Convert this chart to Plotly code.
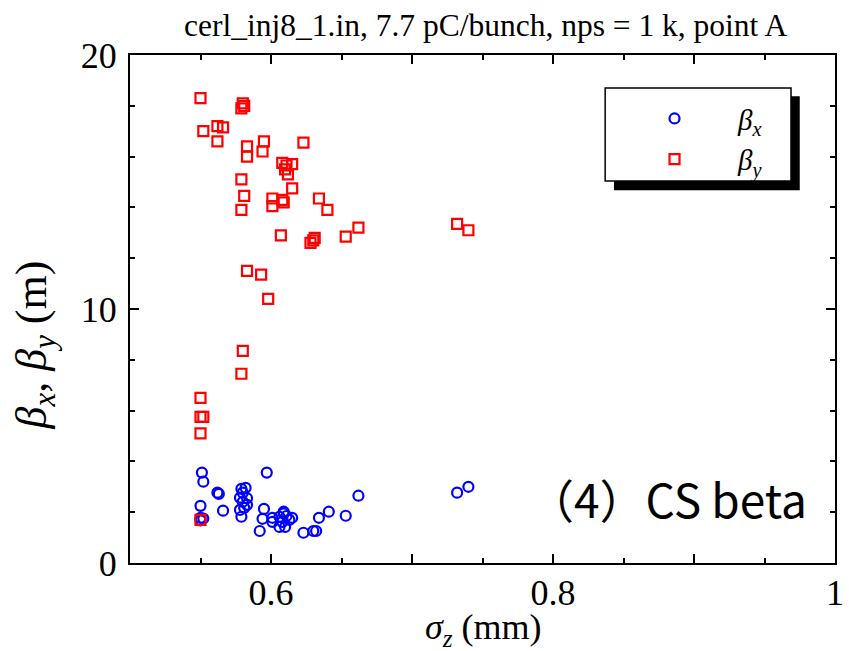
import plotly.graph_objects as go

# sigma_z (mm) and beta_y (m) -- red squares
sz_by = [0.550, 0.580, 0.581, 0.579, 0.552, 0.562, 0.566, 0.562, 0.583, 0.583,
         0.595, 0.594, 0.623, 0.608, 0.611, 0.615, 0.612, 0.610, 0.579, 0.581,
         0.579, 0.601, 0.601, 0.608, 0.609, 0.615, 0.634, 0.640, 0.607, 0.631,
         0.628, 0.630, 0.653, 0.662, 0.732, 0.740, 0.583, 0.593, 0.598, 0.580,
         0.579, 0.550, 0.550, 0.552, 0.550, 0.550]
beta_y = [18.3, 18.1, 18.0, 17.9, 17.0, 17.2, 17.15, 16.6, 16.4, 16.0,
          16.6, 16.2, 16.55, 15.75, 15.65, 15.7, 15.3, 15.5, 15.1, 14.45,
          13.9, 14.35, 14.05, 14.3, 14.2, 14.75, 14.35, 13.9, 12.9, 12.8,
          12.6, 12.7, 12.85, 13.2, 13.35, 13.1, 11.5, 11.35, 10.4, 8.35,
          7.45, 6.5, 5.75, 5.75, 5.1, 1.7]

# sigma_z (mm) and beta_x (m) -- blue circles
sz_bx = [0.551, 0.552, 0.562, 0.563, 0.550, 0.566, 0.550, 0.552, 0.550, 0.579,
         0.582, 0.580, 0.578, 0.583, 0.580, 0.578, 0.581, 0.583, 0.579, 0.597,
         0.595, 0.594, 0.592, 0.601, 0.601, 0.606, 0.609, 0.611, 0.608, 0.606,
         0.610, 0.613, 0.615, 0.609, 0.623, 0.630, 0.632, 0.634, 0.641, 0.653,
         0.662, 0.732, 0.740]
beta_x = [3.56, 3.2, 2.77, 2.72, 2.25, 2.06, 1.78, 1.75, 1.68, 2.92,
          2.96, 2.77, 2.57, 2.55, 2.41, 2.09, 2.17, 2.29, 1.82, 3.56,
          2.13, 1.74, 1.26, 1.78, 1.62, 1.82, 2.02, 1.85, 1.62, 1.42,
          1.42, 1.7, 1.78, 1.95, 1.19, 1.26, 1.26, 1.78, 2.02, 1.86,
          2.65, 2.77, 3.0]

x_tickvals = [0.6, 0.7, 0.8, 0.9, 1.0]
x_ticktext = ["0.6", "", "0.8", "", "1"]
y_tickvals = [0, 10, 20]
y_ticktext = ["0", "10", "20"]

SERIF = "Liberation Serif"

fig = go.Figure()
fig.add_trace(go.Scatter(
    x=sz_bx, y=beta_x, mode="markers",
    name="\u2003\u2002<i>β</i><sub><i>x</i></sub>",
    marker=dict(symbol="circle-open", size=10, color="#0000ff",
                line=dict(width=2.2, color="#0000ff")),
))
fig.add_trace(go.Scatter(
    x=sz_by, y=beta_y, mode="markers",
    name="\u2003\u2002<i>β</i><sub><i>y</i></sub>",
    marker=dict(symbol="square-open", size=10, color="#ff0000",
                line=dict(width=2.2, color="#ff0000")),
))

axis_common = dict(
    showline=True, linecolor="black", linewidth=2, mirror="ticks",
    ticks="inside", ticklen=9, tickwidth=1.5, tickcolor="black",
    showgrid=False, zeroline=False, automargin=False,
    tickfont=dict(family=SERIF, size=36, color="black"),
)

fig.update_xaxes(
    range=[0.5, 1.0], tickmode="array", tickvals=x_tickvals, ticktext=x_ticktext,
    minor=dict(ticks="inside", ticklen=5, tickwidth=1.5, tickcolor="black", dtick=0.05, tick0=0.55),
    ticklabelstandoff=-3,
    **axis_common,
)
fig.update_yaxes(
    range=[0, 20], tickmode="array", tickvals=y_tickvals, ticktext=y_ticktext,
    minor=dict(ticks="inside", ticklen=5, tickwidth=1.5, tickcolor="black", dtick=2, tick0=0),
    ticklabelstandoff=4,
    **axis_common,
)

# axis titles
fig.add_annotation(text="<i>σ</i><sub><i>z</i></sub> (mm)", xref="paper", yref="paper",
                   x=0.502, y=-0.083, xanchor="center", yanchor="top", showarrow=False,
                   font=dict(family=SERIF, size=36, color="black"))
fig.add_annotation(text="<i>β</i><sub><i>x</i></sub>, <i>β</i><sub><i>y</i></sub> (m)",
                   xref="paper", yref="paper", x=-0.135, y=0.43, textangle=-90,
                   xanchor="center", yanchor="middle", showarrow=False,
                   font=dict(family=SERIF, size=44, color="black"))

# legend box with drop shadow
fig.add_shape(type="rect", xref="paper", yref="paper", x0=0.6865, x1=0.950, y0=0.734, y1=0.919,
              fillcolor="black", line=dict(width=0), layer="above")
fig.add_shape(type="rect", xref="paper", yref="paper", x0=0.674, x1=0.9376, y0=0.752, y1=0.935,
              fillcolor="white", line=dict(color="black", width=1.5), layer="above")

fig.add_annotation(text="（4）CS beta", xref="paper", yref="paper", x=0.762, y=0.128,
                   xanchor="center", yanchor="middle", showarrow=False,
                   font=dict(family="Noto Sans CJK JP", size=46, color="black"))

fig.update_layout(
    width=849, height=651,
    margin=dict(l=130, r=14, t=55, b=88),
    paper_bgcolor="white", plot_bgcolor="white",
    title=dict(text="cerl_inj8_1.in, 7.7 pC/bunch, nps = 1 k, point A",
               font=dict(family=SERIF, size=31.5, color="black"),
               x=0.572, xanchor="center", y=0.962, yanchor="middle", yref="container"),
    legend=dict(x=0.744, y=0.925, xanchor="left", yanchor="top",
                bgcolor="rgba(0,0,0,0)", borderwidth=0,
                font=dict(family=SERIF, size=29, color="black"),
                tracegroupgap=0),
    showlegend=True,
)

fig.write_html("out.html")
